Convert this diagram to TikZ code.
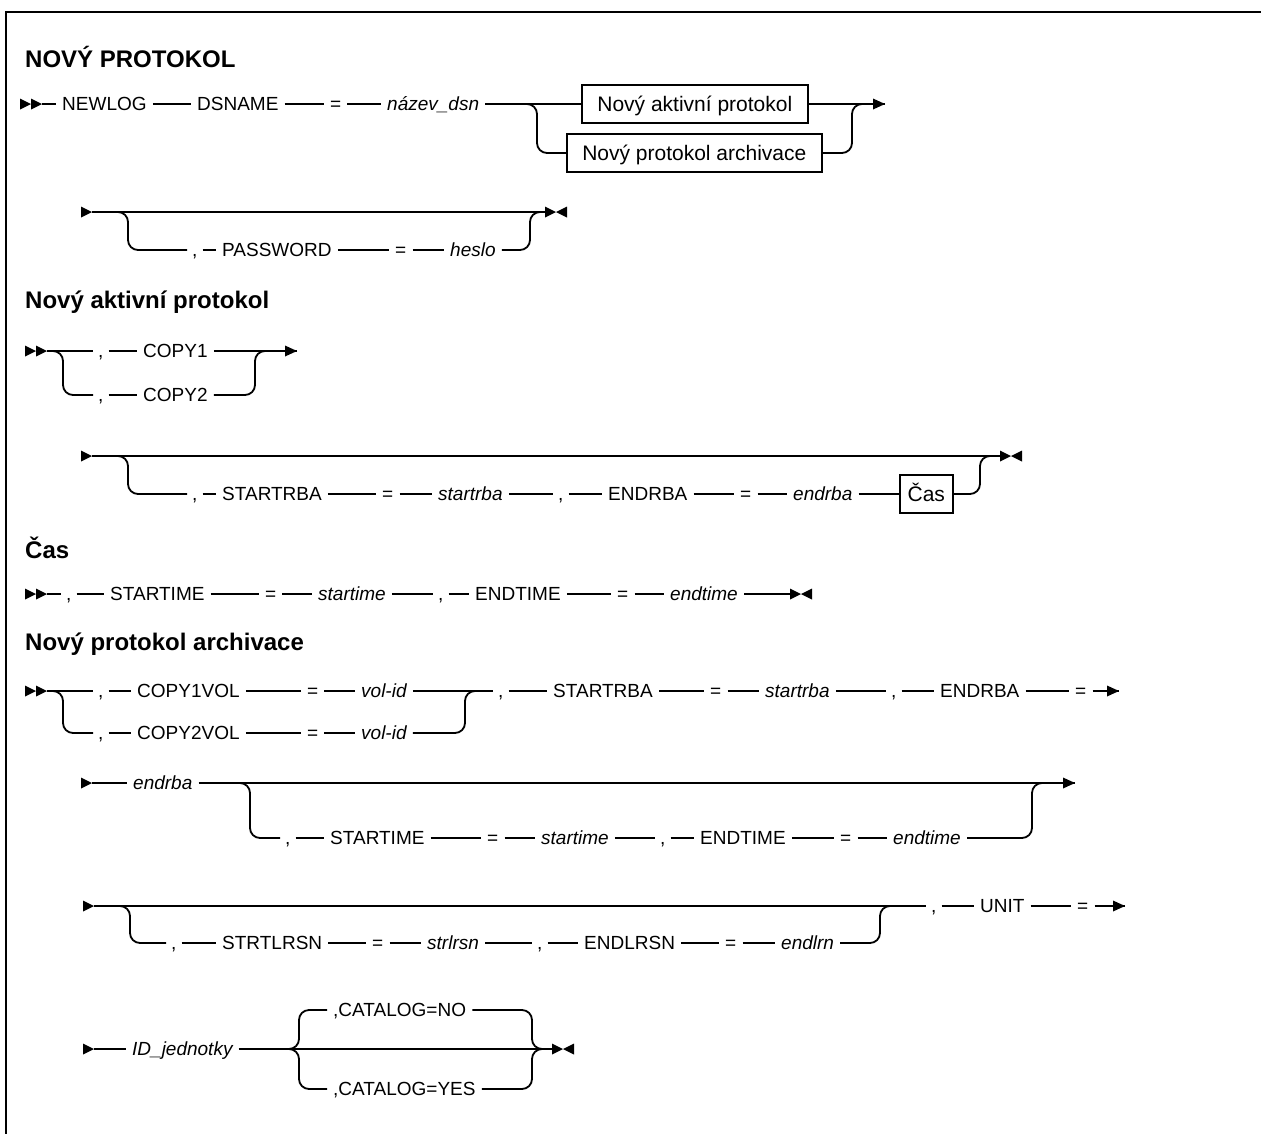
\documentclass[tikz,border=0pt]{standalone}
\usepackage{fontspec}
\setmainfont{Liberation Sans}
\begin{document}
\begin{tikzpicture}[x=1pt,y=-1pt,
 lbl/.style={anchor=west, inner xsep=6pt, inner ysep=0pt, text height=14pt, text depth=0.5pt, font=\fontsize{19}{22}\selectfont},
 commanode/.style={lbl, inner xsep=5pt},
 var/.style={lbl, font=\fontsize{19}{22}\selectfont\itshape},
 refbox/.style={lbl, draw, line width=1.6pt, inner xsep=8pt, minimum height=38pt, text height=15pt, font=\fontsize{21}{24}\selectfont},
 ttl/.style={anchor=west, inner sep=0pt, font=\fontsize{24}{28}\selectfont\bfseries},
 ln/.style={line width=1.8pt},
 br/.style={ln, rounded corners=10pt},
 pics/dstart/.style={code={\fill (0,-5.5)--(11,0)--(0,5.5)--cycle (11,-5.5)--(22,0)--(11,5.5)--cycle;}},
 pics/cstart/.style={code={\fill (0,-5.5)--(11,0)--(0,5.5)--cycle;}},
 pics/endmk/.style={code={\fill (0,-5.5)--(11,0)--(0,5.5)--cycle (22,-5.5)--(11,0)--(22,5.5)--cycle;}},
 pics/cend/.style={code={\fill (-12,-5.5)--(0,0)--(-12,5.5)--cycle;}},
]
\useasboundingbox (0,0) rectangle (1261,1133);
\draw[line width=2.5pt] (6,1140) -- (6,12) -- (1270,12);

% ---------- NOVY PROTOKOL
\node[ttl] (t1) at (25,57) {NOVÝ PROTOKOL};
\coordinate (r1s) at (20,104);
\pic at (r1s) {dstart};
\node[lbl] (newlog) at (56,104) {NEWLOG};
\node[lbl] (dsname) at (191,104) {DSNAME};
\node[lbl] (eq1) at (324,104) {=};
\node[var] (dsn) at (381,104) {název\_dsn};
\node[refbox, minimum width=226pt] (box1) at (581,104) {Nový aktivní protokol};
\node[refbox, minimum width=255pt] (box2) at (566,153) {Nový protokol archivace};
\coordinate (r1j) at (527,104);
\coordinate (r1k) at (862,104);
\coordinate (r1e) at (885,104);
\draw[ln] ([xshift=22pt]r1s) -- (newlog.west) (newlog.east) -- (dsname.west)
  (dsname.east) -- (eq1.west) (eq1.east) -- (dsn.west) (dsn.east) -- (box1.west)
  (box1.east) -- (r1e);
\pic at (r1e) {cend};
\draw[br] (r1j) -- ++(10,0) |- (box2.west);
\draw[br] (box2.east) -| ([xshift=-10pt]r1k) -- (r1k);

% row 2
\coordinate (r2s) at (81,212);
\coordinate (r2e) at (545,212);
\pic at (r2s) {cstart};
\pic at (r2e) {endmk};
\draw[ln] ([xshift=11pt]r2s) -- (r2e);
\coordinate (r2j) at (118,212);
\coordinate (r2k) at (540,212);
\node[commanode] (pwc) at (187,250) {,};
\node[lbl] (pw) at (216,250) {PASSWORD};
\node[lbl] (pweq) at (389,250) {=};
\node[var] (heslo) at (444,250) {heslo};
\draw[br] (r2j) -- ++(10,0) |- (pwc.west);
\draw[ln] (pwc.east) -- (pw.west) (pw.east) -- (pweq.west) (pweq.east) -- (heslo.west);
\draw[br] (heslo.east) -| ([xshift=-10pt]r2k) -- (r2k);

% ---------- Novy aktivni protokol
\node[ttl] (t2) at (25,302) {Nový aktivní protokol};
\coordinate (r3s) at (25,351);
\pic at (r3s) {dstart};
\coordinate (r3j) at (53,351);
\coordinate (r3k) at (265,351);
\coordinate (r3e) at (297,351);
\node[commanode] (c1c) at (93,351) {,};
\node[lbl] (c1) at (137,351) {COPY1};
\node[commanode] (c2c) at (93,395) {,};
\node[lbl] (c2) at (137,395) {COPY2};
\draw[ln] ([xshift=22pt]r3s) -- (c1c.west) (c1c.east) -- (c1.west) (c1.east) -- (r3e);
\pic at (r3e) {cend};
\draw[br] (r3j) -- ++(10,0) |- (c2c.west);
\draw[ln] (c2c.east) -- (c2.west);
\draw[br] (c2.east) -| ([xshift=-10pt]r3k) -- (r3k);

% row 4
\coordinate (r4s) at (81,456);
\coordinate (r4e) at (1000,456);
\pic at (r4s) {cstart};
\pic at (r4e) {endmk};
\draw[ln] ([xshift=11pt]r4s) -- (r4e);
\coordinate (r4j) at (118,456);
\coordinate (r4k) at (990,456);
\node[commanode] (a1) at (187,494) {,};
\node[lbl] (a2) at (216,494) {STARTRBA};
\node[lbl] (a3) at (376,494) {=};
\node[var] (a4) at (432,494) {startrba};
\node[commanode] (a5) at (553,494) {,};
\node[lbl] (a6) at (602,494) {ENDRBA};
\node[lbl] (a7) at (734,494) {=};
\node[var] (a8) at (787,494) {endrba};
\node[refbox, inner xsep=5pt, minimum width=53pt] (cas) at (899,494) {Čas};
\draw[br] (r4j) -- ++(10,0) |- (a1.west);
\draw[ln] (a1.east) -- (a2.west) (a2.east) -- (a3.west) (a3.east) -- (a4.west)
  (a4.east) -- (a5.west) (a5.east) -- (a6.west) (a6.east) -- (a7.west)
  (a7.east) -- (a8.west) (a8.east) -- (cas.west);
\draw[br] (cas.east) -| ([xshift=-10pt]r4k) -- (r4k);

% ---------- Cas
\node[ttl] (t3) at (25,548) {Čas};
\coordinate (r5s) at (25,594);
\coordinate (r5e) at (790,594);
\pic at (r5s) {dstart};
\pic at (r5e) {endmk};
\node[commanode] (b1) at (61,594) {,};
\node[lbl] (b2) at (104,594) {STARTIME};
\node[lbl] (b3) at (259,594) {=};
\node[var] (b4) at (312,594) {startime};
\node[commanode] (b5) at (433,594) {,};
\node[lbl] (b6) at (469,594) {ENDTIME};
\node[lbl] (b7) at (611,594) {=};
\node[var] (b8) at (664,594) {endtime};
\draw[ln] ([xshift=22pt]r5s) -- (b1.west) (b1.east) -- (b2.west) (b2.east) -- (b3.west)
  (b3.east) -- (b4.west) (b4.east) -- (b5.west) (b5.east) -- (b6.west)
  (b6.east) -- (b7.west) (b7.east) -- (b8.west) (b8.east) -- (r5e);

% ---------- Novy protokol archivace
\node[ttl] (t4) at (25,644) {Nový protokol archivace};
\coordinate (r6s) at (25,691);
\pic at (r6s) {dstart};
\coordinate (r6j) at (53,691);
\coordinate (r6k) at (475,691);
\coordinate (r6e) at (1119,691);
\node[commanode] (d1) at (93,691) {,};
\node[lbl] (d2) at (131,691) {COPY1VOL};
\node[lbl] (d3) at (301,691) {=};
\node[var] (d4) at (355,691) {vol-id};
\node[commanode] (e1) at (93,733) {,};
\node[lbl] (e2) at (131,733) {COPY2VOL};
\node[lbl] (e3) at (301,733) {=};
\node[var] (e4) at (355,733) {vol-id};
\node[commanode] (d5) at (493,691) {,};
\node[lbl] (d6) at (547,691) {STARTRBA};
\node[lbl] (d7) at (704,691) {=};
\node[var] (d8) at (759,691) {startrba};
\node[commanode] (d9) at (886,691) {,};
\node[lbl] (d10) at (934,691) {ENDRBA};
\node[lbl] (d11) at (1069,691) {=};
\draw[ln] ([xshift=22pt]r6s) -- (d1.west) (d1.east) -- (d2.west) (d2.east) -- (d3.west)
  (d3.east) -- (d4.west) (d4.east) -- (d5.west) (d5.east) -- (d6.west)
  (d6.east) -- (d7.west) (d7.east) -- (d8.west) (d8.east) -- (d9.west)
  (d9.east) -- (d10.west) (d10.east) -- (d11.west) (d11.east) -- (r6e);
\pic at (r6e) {cend};
\draw[br] (r6j) -- ++(10,0) |- (e1.west);
\draw[ln] (e1.east) -- (e2.west) (e2.east) -- (e3.west) (e3.east) -- (e4.west);
\draw[br] (e4.east) -| ([xshift=-10pt]r6k) -- (r6k);

% row 7
\coordinate (r7s) at (81,783);
\pic at (r7s) {cstart};
\coordinate (r7j) at (240,783);
\coordinate (r7k) at (1042,783);
\coordinate (r7e) at (1075,783);
\node[var] (f1) at (127,783) {endrba};
\node[commanode] (g1) at (280,838) {,};
\node[lbl] (g2) at (324,838) {STARTIME};
\node[lbl] (g3) at (481,838) {=};
\node[var] (g4) at (535,838) {startime};
\node[commanode] (g5) at (655,838) {,};
\node[lbl] (g6) at (694,838) {ENDTIME};
\node[lbl] (g7) at (834,838) {=};
\node[var] (g8) at (887,838) {endtime};
\draw[ln] ([xshift=11pt]r7s) -- (f1.west) (f1.east) -- (r7e);
\pic at (r7e) {cend};
\draw[br] (r7j) -- ++(10,0) |- (g1.west);
\draw[ln] (g1.east) -- (g2.west) (g2.east) -- (g3.west) (g3.east) -- (g4.west)
  (g4.east) -- (g5.west) (g5.east) -- (g6.west) (g6.east) -- (g7.west)
  (g7.east) -- (g8.west);
\draw[br] (g8.east) -| ([xshift=-10pt]r7k) -- (r7k);

% row 8
\coordinate (r8s) at (83,906);
\pic at (r8s) {cstart};
\coordinate (r8j) at (120,906);
\coordinate (r8k) at (890,906);
\coordinate (r8e) at (1125,906);
\node[commanode] (h1) at (166,943) {,};
\node[lbl] (h2) at (216,943) {STRTLRSN};
\node[lbl] (h3) at (366,943) {=};
\node[var] (h4) at (421,943) {strlrsn};
\node[commanode] (h5) at (532,943) {,};
\node[lbl] (h6) at (578,943) {ENDLRSN};
\node[lbl] (h7) at (719,943) {=};
\node[var] (h8) at (775,943) {endlrn};
\node[commanode] (u1) at (926,906) {,};
\node[lbl] (u2) at (974,906) {UNIT};
\node[lbl] (u3) at (1071,906) {=};
\draw[ln] ([xshift=11pt]r8s) -- (u1.west) (u1.east) -- (u2.west) (u2.east) -- (u3.west)
  (u3.east) -- (r8e);
\pic at (r8e) {cend};
\draw[br] (r8j) -- ++(10,0) |- (h1.west);
\draw[ln] (h1.east) -- (h2.west) (h2.east) -- (h3.west) (h3.east) -- (h4.west)
  (h4.east) -- (h5.west) (h5.east) -- (h6.west) (h6.east) -- (h7.west)
  (h7.east) -- (h8.west);
\draw[br] (h8.east) -| ([xshift=-10pt]r8k) -- (r8k);

% row 9
\coordinate (r9s) at (83,1049);
\pic at (r9s) {cstart};
\coordinate (r9j) at (289,1049);
\coordinate (r9k) at (542,1049);
\coordinate (r9e) at (552,1049);
\node[var] (i1) at (126,1049) {ID\_jednotky};
\node[lbl] (cno) at (327,1010) {,CATALOG=NO};
\node[lbl] (cyes) at (327,1089) {,CATALOG=YES};
\draw[ln] ([xshift=11pt]r9s) -- (i1.west) (i1.east) -- (r9e);
\pic at (r9e) {endmk};
\draw[br] (r9j) -- ++(10,0) |- (cno.west);
\draw[br] (r9j) -- ++(10,0) |- (cyes.west);
\draw[br] (cno.east) -| ([xshift=-10pt]r9k) -- (r9k);
\draw[br] (cyes.east) -| ([xshift=-10pt]r9k) -- (r9k);
\end{tikzpicture}
\end{document}
